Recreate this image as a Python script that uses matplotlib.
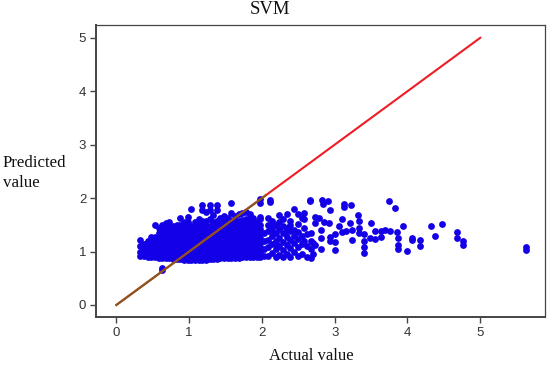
import matplotlib
matplotlib.use('Agg')
import matplotlib.pyplot as plt

# Valores: columnas de la nube densa
col_x = [0.32, 0.38, 0.43, 0.48, 0.53, 0.58, 0.63, 0.68, 0.73, 0.78, 0.83, 0.88,
         0.93, 0.98, 1.03, 1.08, 1.13, 1.18, 1.23, 1.28, 1.33, 1.38, 1.43, 1.48,
         1.53, 1.58, 1.63, 1.68, 1.73, 1.78, 1.83, 1.88, 1.93, 1.98]
col_y = [
    [0.92, 1.00, 1.10, 1.21],
    [0.91, 0.98, 1.06, 1.14],
    [0.90, 0.97, 1.05, 1.13, 1.20],
    [0.89, 0.96, 1.04, 1.12, 1.21, 1.27],
    [0.89, 0.96, 1.03, 1.11, 1.19, 1.28, 1.49],
    [0.88, 0.95, 1.02, 1.10, 1.18, 1.26, 1.34, 1.45],
    [0.88, 0.95, 1.02, 1.09, 1.17, 1.25, 1.33, 1.41, 1.50],
    [0.87, 0.94, 1.01, 1.09, 1.17, 1.25, 1.33, 1.42, 1.54],
    [0.87, 0.94, 1.01, 1.08, 1.16, 1.24, 1.32, 1.40, 1.48, 1.55],
    [0.86, 0.93, 1.00, 1.08, 1.16, 1.24, 1.32, 1.40, 1.47],
    [0.86, 0.93, 1.00, 1.08, 1.16, 1.24, 1.32, 1.40, 1.50],
    [0.86, 0.93, 1.00, 1.08, 1.16, 1.24, 1.32, 1.40, 1.50, 1.62],
    [0.85, 0.92, 1.00, 1.07, 1.15, 1.23, 1.31, 1.39, 1.47, 1.55],
    [0.85, 0.92, 1.00, 1.07, 1.15, 1.23, 1.31, 1.39, 1.47, 1.55, 1.65],
    [0.85, 0.92, 1.00, 1.07, 1.15, 1.23, 1.31, 1.39, 1.47, 1.79],
    [0.85, 0.92, 1.00, 1.07, 1.15, 1.23, 1.31, 1.39, 1.47, 1.55],
    [0.85, 0.92, 1.00, 1.07, 1.15, 1.23, 1.31, 1.39, 1.47, 1.56, 1.60],
    [0.85, 0.92, 1.00, 1.07, 1.15, 1.23, 1.31, 1.39, 1.47, 1.57, 1.78, 1.87],
    [0.85, 0.92, 1.00, 1.07, 1.15, 1.23, 1.31, 1.39, 1.47, 1.58, 1.74],
    [0.86, 0.93, 1.00, 1.08, 1.16, 1.24, 1.32, 1.40, 1.48, 1.60, 1.78, 1.87],
    [0.86, 0.93, 1.00, 1.08, 1.16, 1.24, 1.32, 1.40, 1.48, 1.56, 1.68],
    [0.86, 0.93, 1.00, 1.08, 1.16, 1.24, 1.32, 1.40, 1.48, 1.58, 1.78, 1.87],
    [0.87, 0.94, 1.01, 1.09, 1.17, 1.25, 1.33, 1.41, 1.49, 1.62],
    [0.87, 0.94, 1.01, 1.09, 1.17, 1.25, 1.33, 1.41, 1.49, 1.57, 1.66],
    [0.87, 0.94, 1.01, 1.09, 1.17, 1.25, 1.33, 1.41, 1.49, 1.57, 1.62],
    [0.88, 0.95, 1.02, 1.10, 1.18, 1.26, 1.34, 1.42, 1.50, 1.58, 1.73, 1.90],
    [0.88, 0.95, 1.02, 1.10, 1.18, 1.26, 1.34, 1.42, 1.50, 1.58, 1.66],
    [0.88, 0.95, 1.02, 1.10, 1.18, 1.26, 1.34, 1.42, 1.50, 1.58, 1.70],
    [0.89, 0.96, 1.03, 1.11, 1.19, 1.27, 1.35, 1.43, 1.51, 1.59, 1.72],
    [0.90, 0.97, 1.04, 1.12, 1.20, 1.28, 1.36, 1.44, 1.52, 1.60, 1.74],
    [0.90, 0.97, 1.05, 1.13, 1.21, 1.29, 1.37, 1.45, 1.53, 1.62, 1.70],
    [0.89, 0.97, 1.06, 1.14, 1.22, 1.30, 1.38, 1.46, 1.54, 1.62],
    [0.90, 0.99, 1.07, 1.15, 1.23, 1.31, 1.40, 1.48, 1.56],
    [0.89, 1.00, 1.08, 1.16, 1.25, 1.33, 1.42, 1.50, 1.60, 1.65, 1.90, 1.98],
]

# Puntos sueltos a la derecha de la nube
sparse_x = [0.63, 0.63, 2.03, 2.03, 2.03, 2.03, 2.08, 2.08, 2.08, 2.08, 2.08, 2.08, 2.11, 2.11,
            2.14, 2.14, 2.14, 2.14, 2.14, 2.14, 2.19, 2.19, 2.19, 2.19, 2.19, 2.19, 2.24, 2.24,
            2.24, 2.24, 2.24, 2.24, 2.29, 2.29, 2.29, 2.29, 2.29, 2.29, 2.34, 2.34, 2.34,
            2.34, 2.34, 2.34, 2.39, 2.39, 2.39, 2.39, 2.39, 2.39, 2.44, 2.44, 2.44, 2.44, 2.44, 2.50,
            2.50, 2.50, 2.50, 2.50, 2.50, 2.55, 2.55, 2.55, 2.55, 2.58, 2.58, 2.58,
            2.58, 2.62, 2.62, 2.62, 2.66, 2.66, 2.67, 2.67, 2.67, 2.67, 2.70, 2.70,
            2.73, 2.73, 2.73, 2.78, 2.81, 2.81, 2.81, 2.82, 2.84, 2.85, 2.91, 2.92,
            2.93, 2.94, 2.94, 3.00, 3.00, 3.00, 3.06, 3.10, 3.10, 3.13, 3.13, 3.16,
            3.21, 3.22, 3.24, 3.24, 3.32, 3.33, 3.33, 3.34, 3.40, 3.40, 3.40, 3.40,
            3.48, 3.50, 3.55, 3.55, 3.63, 3.63, 3.69, 3.75, 3.76, 3.83, 3.85, 3.87,
            3.87, 3.87, 3.94, 4.00, 4.06, 4.06, 4.17, 4.17, 4.32, 4.38, 4.47, 4.68,
            4.68, 4.76, 4.76, 5.63, 5.63]
sparse_y = [0.65, 0.70, 0.92, 1.05, 1.20, 1.35, 0.92, 1.08, 1.22, 1.38, 1.50, 1.62, 1.92, 1.97,
            0.98, 1.14, 1.30, 1.40, 1.46, 1.58, 0.90, 1.05, 1.15, 1.20, 1.35, 1.50, 0.94, 1.10,
            1.26, 1.42, 1.56, 1.68, 0.90, 1.02, 1.18, 1.34, 1.48, 1.60, 0.96, 1.12, 1.28,
            1.38, 1.44, 1.70, 0.90, 1.06, 1.22, 1.38, 1.50, 1.58, 1.00, 1.16, 1.30, 1.40, 1.80, 0.92,
            1.08, 1.24, 1.36, 1.52, 1.70, 0.96, 1.14, 1.30, 1.62, 1.20, 1.45, 1.60,
            1.72, 0.90, 1.10, 1.32, 1.94, 1.97, 0.88, 1.05, 1.20, 1.35, 0.95, 1.16,
            1.12, 1.53, 1.65, 1.62, 1.05, 1.25, 1.40, 1.96, 1.89, 1.56, 1.95, 1.53,
            1.78, 1.19, 1.28, 1.03, 1.18, 1.32, 1.47, 1.36, 1.60, 1.84, 1.89, 1.39,
            1.53, 1.87, 1.22, 1.41, 1.68, 1.35, 1.44, 1.57, 0.97, 1.08, 1.19, 1.33,
            1.25, 1.53, 1.23, 1.38, 1.28, 1.38, 1.41, 1.94, 1.38, 1.81, 1.36, 1.05,
            1.12, 1.25, 1.47, 1.01, 1.21, 1.26, 1.11, 1.22, 1.47, 1.29, 1.51, 1.26,
            1.37, 1.12, 1.19, 1.03, 1.08]

line_x = [0, 5]
line_y = [0, 5]
overlap_x = [0, 2.05]
overlap_y = [0, 2.05]
x_ticks = [0, 1, 2, 3, 4, 5]
y_ticks = [0, 1, 2, 3, 4, 5]

actual = []
predicted = []
for x, ys in zip(col_x, col_y):
    for y in ys:
        actual.append(x)
        predicted.append(y)
actual += sparse_x
predicted += sparse_y

serif = ['Liberation Serif', 'DejaVu Serif']
sans = ['Liberation Sans', 'DejaVu Sans']

fig = plt.figure(figsize=(5.5, 3.65), dpi=100)
ax = fig.add_axes([96 / 550, 1 - 317 / 365, (545 - 96) / 550, (317 - 25) / 365])

ax.scatter(actual, predicted, s=24, color='#1400e6', linewidths=0, zorder=2)
ax.plot(line_x, line_y, color='#ee1c25', lw=1.5, zorder=3)
ax.plot(overlap_x, overlap_y, color='#85591f', lw=1.5, zorder=4)

ax.set_xlim(-0.28, 5.89)
ax.set_ylim(-0.225, 5.24)
ax.set_xticks(x_ticks)
ax.set_yticks(y_ticks)
ax.tick_params(length=4, width=1, color='#444444', labelsize=9.5, labelcolor='#333333', pad=3)
for label in ax.get_xticklabels() + ax.get_yticklabels():
    label.set_family(sans)

for side in ['left', 'bottom']:
    ax.spines[side].set_linewidth(1.4)
    ax.spines[side].set_color('#444444')
for side in ['top', 'right']:
    ax.spines[side].set_linewidth(0.9)
    ax.spines[side].set_color('#444444')

fig.text(270 / 550, 1 - 10 / 365, 'SVM', family=serif, fontsize=13.5, ha='center', va='center', color='#111111')
fig.text(311 / 550, 1 - 356 / 365, 'Actual value', family=serif, fontsize=12, ha='center', va='center', color='#111111')
fig.text(3 / 550, 1 - 173 / 365, 'Predicted\nvalue', family=serif, fontsize=12.2, ha='left', va='center',
         color='#111111', linespacing=1.3)

fig.savefig('out.png', dpi=100)
